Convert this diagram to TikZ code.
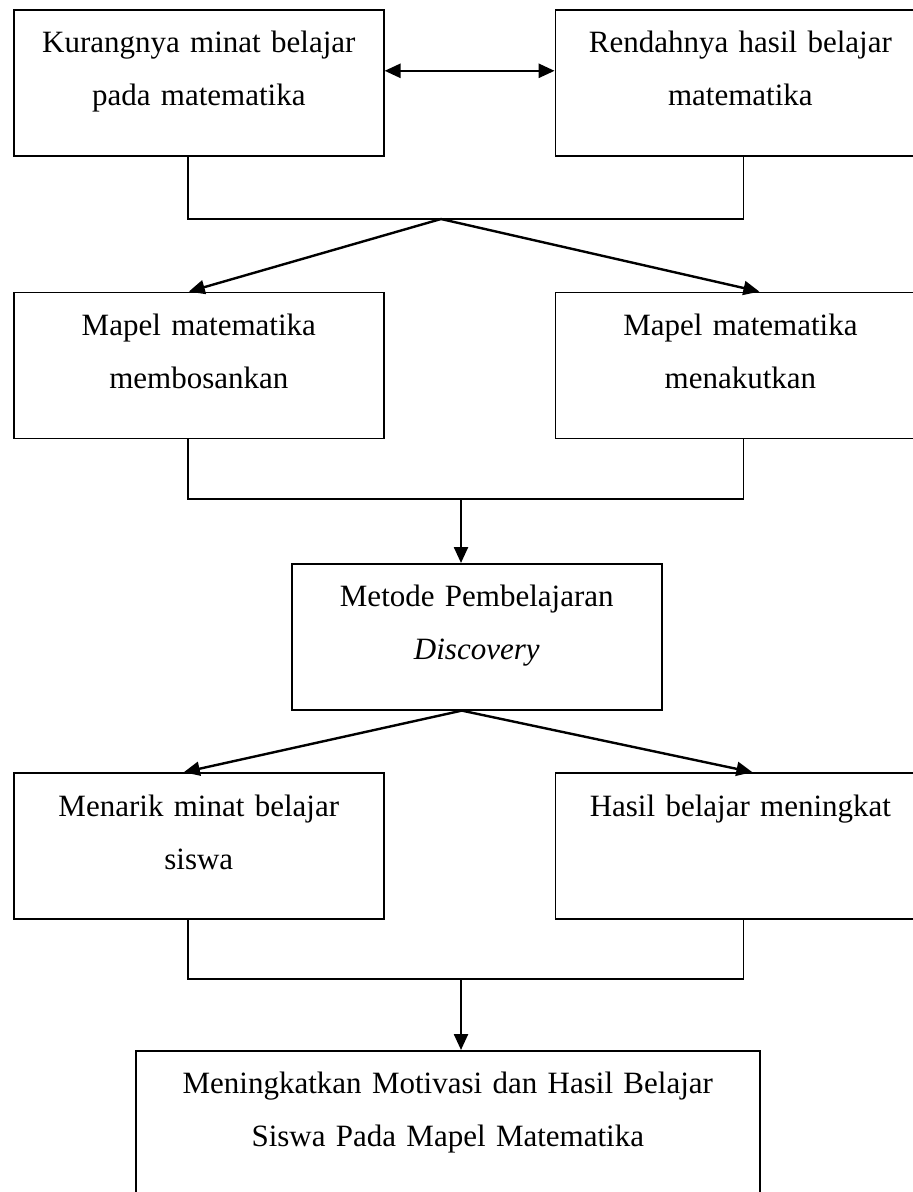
\documentclass[tikz,border=0pt]{standalone}
\usepackage{fontspec}
\setmainfont{Liberation Serif}
\usetikzlibrary{arrows.meta,positioning,calc}
\tikzset{
    kotak/.style={
        draw,line width=1.6pt,inner sep=0pt,align=center,
        text width=#1,text height=43pt,text depth=103pt,
        font=\fontsize{31}{53}\selectfont,anchor=north west
    },
    kotak/.default=370pt,
    garis/.style={line width=1.6pt},
    panah/.style={
        -{Triangle[length=16pt,width=14pt]},line width=2.4pt
    },
    panahdua/.style={
        {Triangle[length=16pt,width=14pt]}-{Triangle[length=16pt,width=14pt]},
        line width=2.6pt
    }
}

\begin{document}
\begin{tikzpicture}[x=1pt,y=1pt]
\useasboundingbox (0,0) rectangle (913,-1192);
\clip (0,0) rectangle (913,-1192);

% masalah
\node[kotak] (kurang) at (13,-9) {Kurangnya minat belajar\\pada matematika};
\node[kotak,right=170pt of kurang] (rendah) {Rendahnya hasil belajar\\matematika};

% penyebab
\node[kotak,below=135pt of kurang] (bosan) {Mapel matematika\\membosankan};
\node[kotak,below=135pt of rendah] (takut) {Mapel matematika\\menakutkan};

% solusi
\node[kotak] (metode) at (291,-563) {Metode Pembelajaran\\\textit{Discovery}};

% hasil
\node[kotak,below=333pt of bosan] (menarik) {Menarik minat belajar\\siswa};
\node[kotak,below=333pt of takut] (hasil) {Hasil belajar meningkat};
\node[kotak=624pt] (akhir) at (135,-1050)
{Meningkatkan Motivasi dan Hasil Belajar\\Siswa Pada Mapel Matematika};

\coordinate (puncak1) at (441,-219);
\coordinate (gabung2) at (461,-499);
\coordinate (gabung3) at (461,-979);
\coordinate (puncak2) at ([xshift=-15pt]metode.south);

\draw[panahdua]([yshift=12pt]kurang.east)--([yshift=12pt]rendah.west);

\draw[garis]([xshift=-11pt]kurang.south)|-(puncak1)-|([xshift=3pt]rendah.south);
\draw[panah](puncak1)--([xshift=-10pt]bosan.north);
\draw[panah](puncak1)--([xshift=19pt]takut.north);

\draw[garis]([xshift=-11pt]bosan.south)|-(gabung2)-|([xshift=3pt]takut.south);
\draw[panah](gabung2)--(gabung2|-metode.north);

\draw[panah](puncak2)--([xshift=-15pt]menarik.north);
\draw[panah](puncak2)--([xshift=12pt]hasil.north);

\draw[garis]([xshift=-11pt]menarik.south)|-(gabung3)-|([xshift=3pt]hasil.south);
\draw[panah](gabung3)--(gabung3|-akhir.north);

\end{tikzpicture}
\end{document}
